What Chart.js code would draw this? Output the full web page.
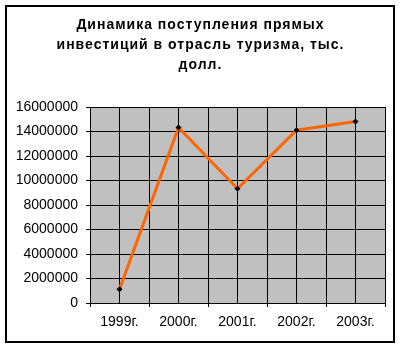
<!DOCTYPE html>
<html>
<head>
<meta charset="utf-8">
<script src="https://cdn.jsdelivr.net/npm/chart.js@4"></script>
<style>
  html, body { margin: 0; padding: 0; background: #fff; }
  #wrap { width: 401px; height: 348px; }
</style>
</head>
<body>
<div id="wrap"><canvas id="c" width="401" height="348"></canvas></div>
<script>
const titleLines = ['Динамика поступления прямых', 'инвестиций в отрасль туризма, тыс.', 'долл.'];
const categories = ['1999г.', '2000г.', '2001г.', '2002г.', '2003г.'];
const investments = [1130000, 14330000, 9330000, 14110000, 14820000];
const yTicks = [0, 2000000, 4000000, 6000000, 8000000, 10000000, 12000000, 14000000, 16000000];

const FONT = "'Liberation Sans', Arial, sans-serif";

const decor = {
  id: 'decor',
  beforeDraw(chart) {
    const {ctx, chartArea: a} = chart;
    ctx.save();
    ctx.fillStyle = '#C0C0C0';
    ctx.fillRect(a.left, a.top, a.right - a.left, a.bottom - a.top);
    ctx.restore();
  },
  afterDraw(chart) {
    const ctx = chart.ctx;
    ctx.save();
    // chart title (spaced lettering like the original)
    ctx.fillStyle = '#000';
    ctx.font = "bold 14px " + FONT;
    ctx.textAlign = 'center';
    ctx.textBaseline = 'alphabetic';
    if ('letterSpacing' in ctx) ctx.letterSpacing = '1px';
    titleLines.forEach((t, i) => ctx.fillText(t, 200.5, 29 + i * 20));
    if ('letterSpacing' in ctx) ctx.letterSpacing = '0px';
    // outer frame
    ctx.strokeStyle = '#000';
    ctx.lineWidth = 2;
    ctx.strokeRect(6, 6, 388, 336);
    ctx.restore();
  }
};

new Chart(document.getElementById('c'), {
  type: 'line',
  data: {
    datasets: [{
      data: investments.map((v, i) => ({x: i, y: v})),
      borderColor: '#FF6600',
      borderWidth: 3,
      pointStyle: 'rectRot',
      pointRadius: 3,
      pointBackgroundColor: '#000',
      pointBorderColor: '#000',
      pointBorderWidth: 0,
      tension: 0,
      clip: false
    }]
  },
  options: {
    responsive: false,
    animation: false,
    devicePixelRatio: 1,
    layout: { padding: { left: 0, right: 16, top: 107, bottom: 0 } },
    plugins: {
      legend: { display: false },
      tooltip: { enabled: false },
      title: { display: false }
    },
    scales: {
      x: {
        type: 'linear',
        min: -0.5,
        max: categories.length - 0.5,
        afterFit(scale) { scale.height = 45; },
        afterBuildTicks(scale) {
          const t = [];
          for (let i = 0; i <= categories.length * 2; i++) t.push({value: -0.5 + i * 0.5});
          scale.ticks = t;
        },
        ticks: {
          autoSkip: false,
          maxRotation: 0,
          padding: 7,
          color: '#000',
          font: { family: FONT, size: 14 },
          callback: (v) => Number.isInteger(v) ? categories[v] : ''
        },
        grid: {
          color: '#000',
          lineWidth: 1,
          tickLength: 4,
          tickColor: (c) => (c.tick && !Number.isInteger(c.tick.value)) ? '#000' : 'rgba(0,0,0,0)'
        },
        border: { color: '#000', width: 1 }
      },
      y: {
        min: 0,
        max: 16000000,
        afterFit(scale) { scale.width = 90; },
        afterBuildTicks(scale) { scale.ticks = yTicks.map(v => ({value: v})); },
        ticks: {
          padding: 8,
          color: '#000',
          font: { family: FONT, size: 14 },
          callback: (v) => String(v)
        },
        grid: { color: '#000', lineWidth: 1, tickLength: 4, tickColor: '#000' },
        border: { color: '#000', width: 1 }
      }
    }
  },
  plugins: [decor]
});
</script>
</body>
</html>
